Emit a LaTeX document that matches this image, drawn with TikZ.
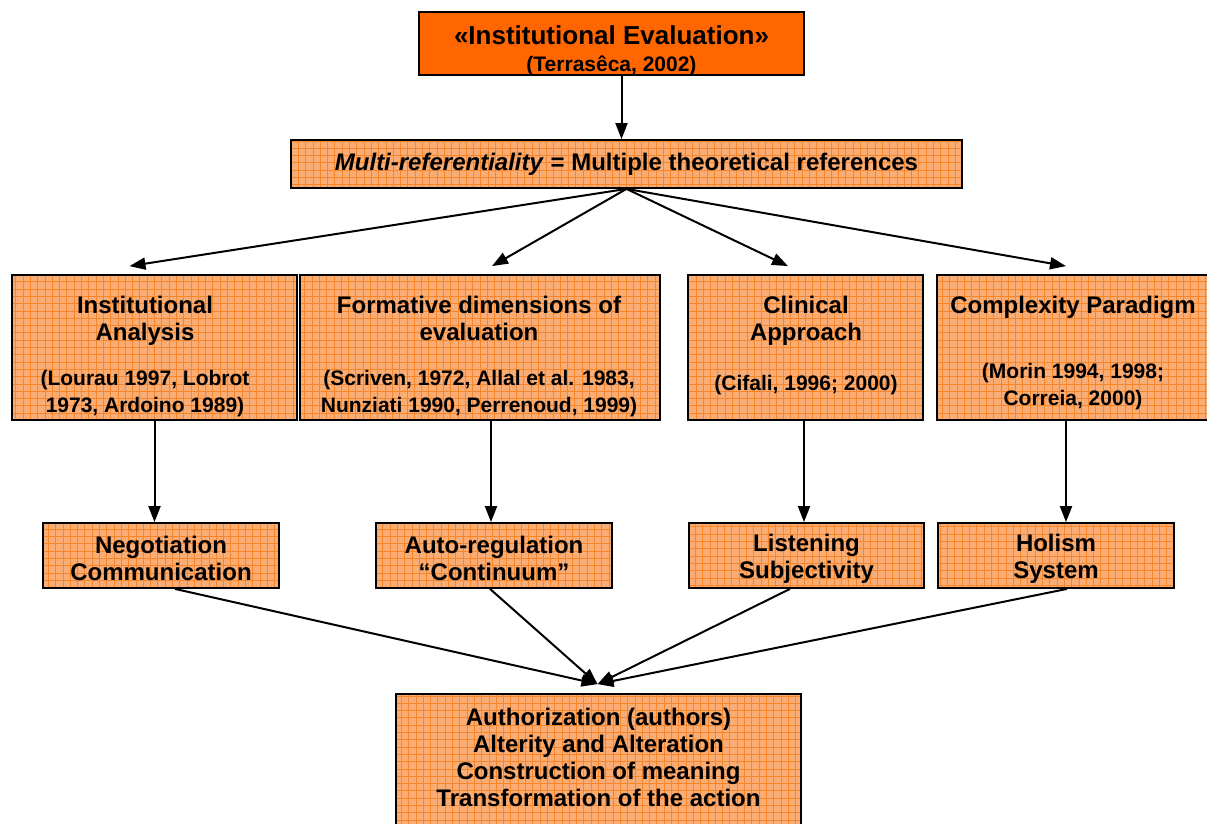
\documentclass[tikz,border=0pt]{standalone}
\usepackage{fontspec}
\setmainfont{Liberation Sans}
\usetikzlibrary{calc,arrows.meta}

\definecolor{hot}{HTML}{FF6600}
\definecolor{peach}{HTML}{F9AC74}
\definecolor{gridc}{HTML}{F7852A}
\newcommand{\cit}{\fontsize{21}{27}\selectfont}

\begin{document}
\begin{tikzpicture}[x=1pt,y=-1pt,
 box/.style={draw=black,line width=1.8pt,inner sep=0pt},
 pat/.style={box,fill=peach,
  path picture={\draw[gridc,line width=0.9pt] (path picture bounding box.south west)
   grid[step=7.3pt] (path picture bounding box.north east);}},
 txt/.style={font=\fontsize{24}{27}\selectfont\bfseries,align=center,inner sep=0pt},
 arr/.style={line width=2pt,-{Triangle[length=16pt,width=12pt]}}]

\useasboundingbox (0,0) rectangle (1207,824);

% top
\node[box,fill=hot,minimum width=385pt,minimum height=63pt] (ie) at (611.5,43.5) {};
\node[txt] (iet) at (611.5,51) {{\fontsize{26}{27}\selectfont «Institutional Evaluation»}\\{\cit (Terrasêca, 2002)}};

\node[pat,txt,minimum width=671pt,minimum height=48pt] (mr) at (626.5,164)
 {\textit{Multi-referentiality} = Multiple theoretical references};

% four approaches
\node[pat,minimum width=285pt,minimum height=145pt] (ia) at (154.5,347.5) {};
\node[pat,minimum width=360pt,minimum height=145pt] (fd) at (480,347.5) {};
\node[pat,minimum width=235pt,minimum height=145pt] (ca) at (805.5,347.5) {};
\node[pat,minimum width=274pt,minimum height=145pt] (cp) at (1074,347.5) {};

\node[txt] (iat) at (145,356) {Institutional\\Analysis\\[18pt]{\cit (Lourau 1997, Lobrot}\\{\cit 1973, Ardoino 1989)}};
\node[txt] (fdt) at (479,356) {Formative dimensions of\\evaluation\\[18pt]{\cit (Scriven, 1972, Allal et al. 1983,}\\{\cit Nunziati 1990, Perrenoud, 1999)}};
\node[txt] (cat) at (806,345.5) {Clinical\\Approach\\[23pt]{\cit (Cifali, 1996; 2000)}};
\node[txt] (cpt) at (1073,352.5) {Complexity Paradigm\\[38pt]{\cit (Morin 1994, 1998;}\\{\cit Correia, 2000)}};

% outcomes
\tikzset{out2/.style={pat,txt,minimum height=65pt,text height=50pt}}
\node[out2,minimum width=236pt] (nc) at (161,555.5) {Negotiation\\Communication};
\node[out2,minimum width=236pt] (ar) at (494,555.5) {Auto-regulation\\“Continuum”};
\node[out2,minimum width=235pt] (ls) at (806.5,555.5) {Listening\\Subjectivity};
\node[out2,minimum width=236pt] (hs) at (1056,555.5) {Holism\\System};

\node[pat,minimum width=405pt,minimum height=150pt] (ae) at (598.5,769) {};
\node[txt] (aet) at (598.5,757) {Authorization (authors)\\Alterity and Alteration\\Construction of meaning\\Transformation of the action};

% arrows
\draw[arr] ([xshift=10pt]ie.south) -- ([xshift=10pt]ie.south |- mr.north);
\foreach \n/\s in {ia/-25,fd/12,ca/-17.5,cp/-8}
 \draw[arr] (mr.south) -- ([xshift=\s pt,yshift=8pt]\n.north);

\draw[arr] (ia.south) -- (ia.south |- nc.north);
\draw[arr] ([xshift=11pt]fd.south) -- ([xshift=11pt]fd.south |- ar.north);
\draw[arr] ([xshift=-1.5pt]ca.south) -- ([xshift=-1.5pt]ca.south |- ls.north);
\draw[arr] ([xshift=-8pt]cp.south) -- ([xshift=-8pt]cp.south |- hs.north);

\foreach \n/\s in {nc/14,ar/-4,ls/-16.5,hs/11}
 \draw[arr] ([xshift=\s pt]\n.south) -- ([xshift=-1pt,yshift=9pt]ae.north);

\end{tikzpicture}
\end{document}
